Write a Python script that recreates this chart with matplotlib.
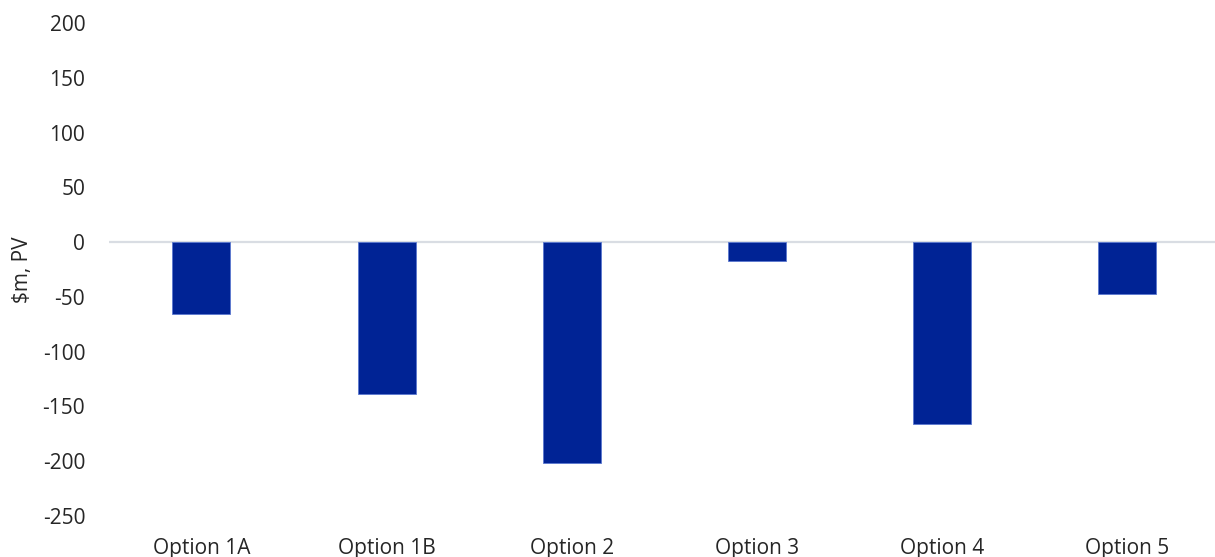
import matplotlib
matplotlib.use("Agg")
import matplotlib.pyplot as plt
import numpy as np

# Present value by option, $m
options = ["Option 1A", "Option 1B", "Option 2", "Option 3", "Option 4", "Option 5"]
pv_values = [-66, -139, -202, -17, -166, -47]
y_ticks = [-250, -200, -150, -100, -50, 0, 50, 100, 150, 200]

plt.rcParams["font.family"] = ["Open Sans", "DejaVu Sans"]

fig = plt.figure(figsize=(12.15, 5.57), dpi=100)
ax = fig.add_axes([0.0895, 0.0736, 0.9145, 0.885])

x = np.arange(len(options))
ax.bar(x, pv_values, width=0.313, color="#002395",
       edgecolor="#5a78d0", linewidth=0.6, zorder=3)

# zero line acts as the category axis
ax.axhline(0, color="#d9dde3", linewidth=1.6, zorder=2)

ax.set_xlim(-0.5, 5.5)
ax.set_ylim(-250, 200)
ax.set_yticks(y_ticks)
ax.set_yticklabels([str(v) for v in y_ticks], fontsize=15, color="#262626")
ax.set_xticks(x)
ax.set_xticklabels(options, fontsize=15, color="#262626")
ax.tick_params(axis="y", length=0, pad=17)
ax.tick_params(axis="x", length=0, pad=16)

for s in ax.spines.values():
    s.set_visible(False)

ax.set_ylabel("$m, PV", fontsize=15, color="#262626", labelpad=7)

fig.savefig("out.png", dpi=100)
